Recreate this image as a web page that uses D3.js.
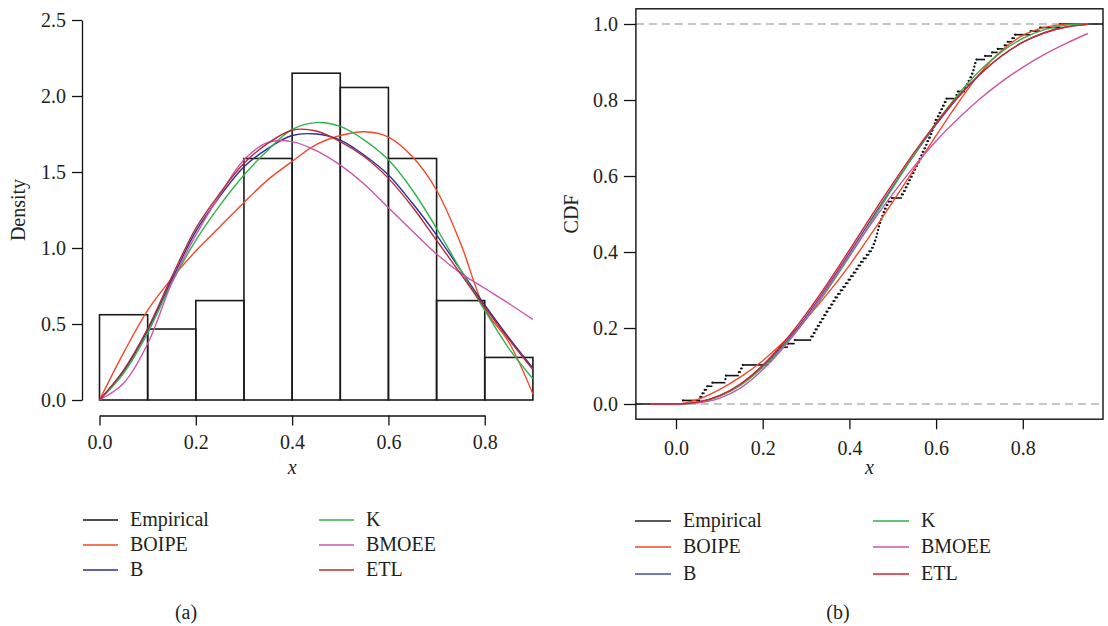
<!DOCTYPE html>
<html>
<head>
<meta charset="utf-8">
<script src="https://cdn.jsdelivr.net/npm/d3@7"></script>
<style>
    body { margin: 0; background: #fff; }
    svg text { font-family: "Liberation Serif", "DejaVu Serif", serif; fill: #231f20; }
</style>
</head>
<body>
<div id="chart"></div>
<script>
// histogram (density scale), bins of width 0.1
var binStarts = [0, 0.1, 0.2, 0.3, 0.4, 0.5, 0.6, 0.7, 0.8];
var binDensity = [0.561, 0.467, 0.654, 1.589, 2.150, 2.056, 1.589, 0.654, 0.280];

// fitted densities, read at x = 0, 0.05, ..., 0.9
var densX = [0, 0.05, 0.1, 0.15, 0.2, 0.25, 0.3, 0.35, 0.4, 0.45, 0.5, 0.55, 0.6, 0.65, 0.7, 0.75, 0.8, 0.85, 0.9];
var densBOIPE = [0, 0.31, 0.59, 0.80, 0.98, 1.14, 1.30, 1.45, 1.57, 1.68, 1.74, 1.765, 1.73, 1.60, 1.38, 1.03, 0.60, 0.38, 0.04];
var densB = [0, 0.19, 0.46, 0.79, 1.11, 1.34, 1.535, 1.656, 1.74, 1.75, 1.71, 1.61, 1.48, 1.294, 1.085, 0.855, 0.625, 0.41, 0.21];
var densK = [0, 0.176, 0.44, 0.77, 1.05, 1.28, 1.48, 1.645, 1.78, 1.825, 1.80, 1.71, 1.58, 1.38, 1.13, 0.855, 0.59, 0.34, 0.14];
var densBMOEE = [0, 0.11, 0.37, 0.77, 1.085, 1.35, 1.58, 1.695, 1.70, 1.64, 1.545, 1.42, 1.265, 1.11, 0.96, 0.835, 0.735, 0.635, 0.53];
var densETL = [0, 0.197, 0.47, 0.81, 1.13, 1.36, 1.557, 1.69, 1.775, 1.77, 1.70, 1.60, 1.458, 1.27, 1.05, 0.83, 0.61, 0.40, 0.20];

// fitted CDFs, read at x = -0.06, 0, 0.05, ..., 0.95
var cdfX = [-0.06, 0, 0.05, 0.1, 0.15, 0.2, 0.25, 0.3, 0.35, 0.4, 0.45, 0.5, 0.55, 0.6, 0.65, 0.7, 0.75, 0.8, 0.85, 0.9, 0.95];
var cdfBOIPE = [0, 0, 0.012, 0.038, 0.072, 0.114, 0.165, 0.224, 0.291, 0.365, 0.447, 0.532, 0.619, 0.706, 0.791, 0.868, 0.929, 0.970, 0.991, 0.999, 1.0];
var cdfB = [0, 0, 0.005, 0.021, 0.052, 0.100, 0.158, 0.230, 0.311, 0.397, 0.485, 0.572, 0.656, 0.735, 0.806, 0.866, 0.915, 0.952, 0.977, 0.992, 0.999];
var cdfK = [0, 0, 0.004, 0.020, 0.050, 0.096, 0.154, 0.223, 0.302, 0.388, 0.478, 0.569, 0.657, 0.739, 0.813, 0.876, 0.926, 0.962, 0.985, 0.997, 1.0];
var cdfBMOEE = [0, 0, 0.003, 0.015, 0.043, 0.090, 0.151, 0.224, 0.306, 0.391, 0.474, 0.553, 0.626, 0.692, 0.750, 0.802, 0.847, 0.886, 0.920, 0.949, 0.975];
var cdfETL = [0, 0, 0.005, 0.022, 0.054, 0.102, 0.164, 0.237, 0.318, 0.405, 0.494, 0.580, 0.663, 0.739, 0.808, 0.867, 0.915, 0.952, 0.977, 0.992, 0.999];

// sorted sample (n = 107) for the empirical CDF
var sample = [
    0.016, 0.056, 0.061, 0.066, 0.072, 0.084,
    0.114, 0.115, 0.145, 0.150, 0.154,
    0.213, 0.220, 0.226, 0.232, 0.238, 0.258, 0.274,
    0.312, 0.318, 0.322, 0.327, 0.332, 0.337, 0.342, 0.347, 0.352, 0.358, 0.363, 0.368, 0.374, 0.380, 0.386, 0.392, 0.398,
    0.404, 0.410, 0.416, 0.421, 0.427, 0.433, 0.440, 0.446, 0.452, 0.456, 0.459, 0.462, 0.464, 0.466, 0.468, 0.470, 0.473, 0.476, 0.479, 0.482, 0.486, 0.490, 0.498,
    0.521, 0.526, 0.530, 0.534, 0.538, 0.542, 0.546, 0.550, 0.554, 0.558, 0.562, 0.566, 0.569, 0.573, 0.577, 0.580, 0.584, 0.588, 0.591, 0.594, 0.597, 0.599,
    0.604, 0.608, 0.612, 0.616, 0.620, 0.624, 0.647, 0.650, 0.667, 0.671, 0.675, 0.679, 0.683, 0.686, 0.688, 0.690, 0.693,
    0.713, 0.729, 0.742, 0.758, 0.765, 0.776, 0.782,
    0.818, 0.840, 0.886
];

var legendNames = ["Empirical", "BOIPE", "B", "K", "BMOEE", "ETL"];
var coloursA = {Empirical: "#111", BOIPE: "#f4472a", B: "#2e2f92", K: "#2fb34a", BMOEE: "#cc55aa", ETL: "#b52a3a"};
var coloursB = {Empirical: "#222", BOIPE: "#f4472a", B: "#4a4aa8", K: "#2fb34a", BMOEE: "#cc55aa", ETL: "#d8202a"};

var fontSize = "20px";

var svg = d3.select("#chart").append("svg")
    .attr("width", 1108)
    .attr("height", 626);

function styleAxis(g) {
    g.selectAll("text").attr("font-size", fontSize).attr("font-family", null).style("fill", "#231f20");
    g.selectAll("line").attr("stroke", "#111").attr("stroke-width", 1.3);
    g.select(".domain").attr("stroke", "#111").attr("stroke-width", 1.3);
    g.attr("font-family", null);
}

function drawLegend(colours, col1, col2, rows, lineLen, gap, label, labelX) {
    legendNames.forEach(function (name, i) {
        var lx = i < 3 ? col1 : col2;
        var ly = rows[i % 3];
        svg.append("line")
            .attr("x1", lx).attr("x2", lx + lineLen)
            .attr("y1", ly).attr("y2", ly)
            .attr("stroke", colours[name])
            .attr("stroke-width", 1.6);
        svg.append("text")
            .attr("x", lx + lineLen + gap)
            .attr("y", ly + 6)
            .attr("font-size", fontSize)
            .text(name);
    });
    svg.append("text")
        .attr("x", labelX).attr("y", 619)
        .attr("text-anchor", "middle")
        .attr("font-size", fontSize)
        .text(label);
}

// ---------- (a) histogram with fitted densities ----------
var xA = d3.scaleLinear().domain([0, 0.9]).range([99.5, 532.9]);
var yA = d3.scaleLinear().domain([0, 2.5]).range([400, 20]);

svg.append("g").selectAll("rect")
    .data(binStarts)
    .enter().append("rect")
    .attr("x", function (d) { return xA(d); })
    .attr("width", function (d) { return xA(d + 0.1) - xA(d); })
    .attr("y", function (d, i) { return yA(binDensity[i]); })
    .attr("height", function (d, i) { return yA(0) - yA(binDensity[i]); })
    .attr("fill", "none")
    .attr("stroke", "#1a1a1a")
    .attr("stroke-width", 1.6);

var lineA = d3.line()
    .x(function (d) { return xA(d[0]); })
    .y(function (d) { return yA(d[1]); })
    .curve(d3.curveCatmullRom);

var densSeries = [["BOIPE", densBOIPE], ["B", densB], ["K", densK], ["BMOEE", densBMOEE], ["ETL", densETL]];
densSeries.forEach(function (s) {
    svg.append("path")
        .attr("d", lineA(densX.map(function (x, i) { return [x, s[1][i]]; })))
        .attr("fill", "none")
        .attr("stroke", coloursA[s[0]])
        .attr("stroke-width", 1.4);
});

var yAxisA = svg.append("g")
    .attr("transform", "translate(82,0)")
    .call(d3.axisLeft(yA).tickValues([0, 0.5, 1, 1.5, 2, 2.5]).tickFormat(d3.format(".1f"))
        .tickSize(10).tickSizeOuter(0).tickPadding(6));
styleAxis(yAxisA);

var xAxisScaleA = d3.scaleLinear().domain([0, 0.8]).range([xA(0), xA(0.8)]);
var xAxisA = svg.append("g")
    .attr("transform", "translate(0,415.5)")
    .call(d3.axisBottom(xAxisScaleA).tickValues([0, 0.2, 0.4, 0.6, 0.8]).tickFormat(d3.format(".1f"))
        .tickSize(10).tickSizeOuter(0).tickPadding(9));
styleAxis(xAxisA);

svg.append("text")
    .attr("transform", "translate(25,210) rotate(-90)")
    .attr("text-anchor", "middle")
    .attr("font-size", fontSize)
    .text("Density");

svg.append("text")
    .attr("x", xA(0.4)).attr("y", 474)
    .attr("text-anchor", "middle")
    .attr("font-size", fontSize)
    .attr("font-style", "italic")
    .text("x");

drawLegend(coloursA, 83, 319, [520, 545, 570], 35, 12, "(a)", 186);

// ---------- (b) empirical and fitted CDFs ----------
var xB = d3.scaleLinear().domain([0, 0.8]).range([676, 1022.8]);
var yB = d3.scaleLinear().domain([0, 1]).range([404, 24]);
var boxLeft = xB(-0.0925), boxRight = xB(0.985);
var boxTop = yB(1.04), boxBottom = yB(-0.04);

// dashed reference lines at 0 and 1
[0, 1].forEach(function (v) {
    svg.append("line")
        .attr("x1", boxLeft).attr("x2", boxRight)
        .attr("y1", yB(v)).attr("y2", yB(v))
        .attr("stroke", "#b3b3b3")
        .attr("stroke-width", 1.4)
        .attr("stroke-dasharray", "8,5");
});

// empirical step function
var n = sample.length;
var steps = [[null, sample[0], 0]];
sample.forEach(function (s, i) {
    steps.push([s, i < n - 1 ? sample[i + 1] : null, (i + 1) / n]);
});
svg.append("g").selectAll("line")
    .data(steps)
    .enter().append("line")
    .attr("x1", function (d) { return d[0] === null ? boxLeft : xB(d[0]); })
    .attr("x2", function (d) { return d[1] === null ? boxRight : xB(d[1]); })
    .attr("y1", function (d) { return yB(d[2]); })
    .attr("y2", function (d) { return yB(d[2]); })
    .attr("stroke", "#111")
    .attr("stroke-width", 1.6);
svg.append("g").selectAll("circle")
    .data(sample)
    .enter().append("circle")
    .attr("cx", function (d) { return xB(d); })
    .attr("cy", function (d, i) { return yB((i + 1) / n); })
    .attr("r", 1.1)
    .attr("fill", "#111");

var lineB = d3.line()
    .x(function (d) { return xB(d[0]); })
    .y(function (d) { return yB(d[1]); })
    .curve(d3.curveMonotoneX);

var cdfSeries = [["BOIPE", cdfBOIPE], ["B", cdfB], ["K", cdfK], ["BMOEE", cdfBMOEE], ["ETL", cdfETL]];
cdfSeries.forEach(function (s) {
    svg.append("path")
        .attr("d", lineB(cdfX.map(function (x, i) { return [x, s[1][i]]; })))
        .attr("fill", "none")
        .attr("stroke", coloursB[s[0]])
        .attr("stroke-width", 1.4);
});

svg.append("rect")
    .attr("x", boxLeft).attr("y", boxTop)
    .attr("width", boxRight - boxLeft).attr("height", boxBottom - boxTop)
    .attr("fill", "none")
    .attr("stroke", "#111")
    .attr("stroke-width", 1.4);

var yAxisB = svg.append("g")
    .attr("transform", "translate(" + boxLeft + ",0)")
    .call(d3.axisLeft(yB).tickValues([0, 0.2, 0.4, 0.6, 0.8, 1]).tickFormat(d3.format(".1f"))
        .tickSize(12).tickSizeOuter(0).tickPadding(6));
yAxisB.select(".domain").remove();
styleAxis(yAxisB);

var xAxisB = svg.append("g")
    .attr("transform", "translate(0," + boxBottom + ")")
    .call(d3.axisBottom(xB).tickValues([0, 0.2, 0.4, 0.6, 0.8]).tickFormat(d3.format(".1f"))
        .tickSize(10).tickSizeOuter(0).tickPadding(12));
xAxisB.select(".domain").remove();
styleAxis(xAxisB);

svg.append("text")
    .attr("transform", "translate(578," + ((boxTop + boxBottom) / 2) + ") rotate(-90)")
    .attr("text-anchor", "middle")
    .attr("font-size", fontSize)
    .text("CDF");

svg.append("text")
    .attr("x", (boxLeft + boxRight) / 2).attr("y", 474)
    .attr("text-anchor", "middle")
    .attr("font-size", fontSize)
    .attr("font-style", "italic")
    .text("x");

drawLegend(coloursB, 635, 873, [521, 547, 574], 36, 12, "(b)", 838);
</script>
</body>
</html>
